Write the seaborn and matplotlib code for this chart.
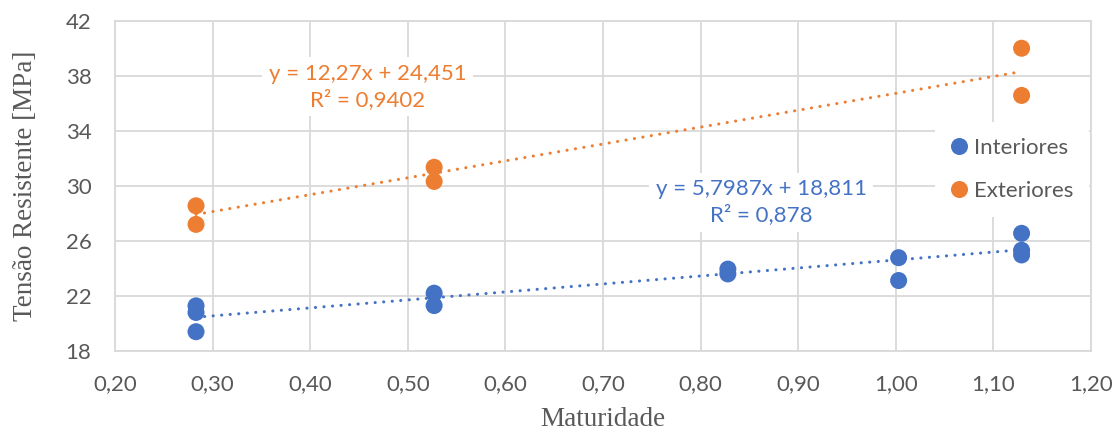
import numpy as np
import pandas as pd
import matplotlib
matplotlib.use("Agg")
import matplotlib.pyplot as plt
import seaborn as sns

# Measured strength vs. maturity
int_x = [0.283, 0.283, 0.283, 0.527, 0.527, 0.828, 0.828, 1.003, 1.003, 1.129, 1.129, 1.129]
int_y = [21.28, 20.80, 19.40, 22.20, 21.30, 23.95, 23.60, 24.78, 23.12, 26.55, 25.32, 24.98]
ext_x = [0.283, 0.283, 0.527, 0.527, 1.129, 1.129]
ext_y = [28.55, 27.20, 31.35, 30.32, 40.00, 36.57]

series = ["Interiores", "Exteriores"]
colors = ["#4472C4", "#ED7D31"]

# Linear trend coefficients (slope, intercept) and R²
int_fit = (5.7987, 18.811, "0,878")
ext_fit = (12.27, 24.451, "0,9402")

x_ticks = [0.20, 0.30, 0.40, 0.50, 0.60, 0.70, 0.80, 0.90, 1.00, 1.10, 1.20]
y_ticks = [18, 22, 26, 30, 34, 38, 42]

df = pd.DataFrame({
    "Maturidade": int_x + ext_x,
    "Tensao": int_y + ext_y,
    "Serie": [series[0]] * len(int_x) + [series[1]] * len(ext_x),
})

sns.set_theme(style="white")
plt.rcParams["font.family"] = ["Lato", "DejaVu Sans"]

fig = plt.figure(figsize=(11.2, 4.36), dpi=100)
ax = fig.add_axes([0.1027, 0.195, 0.8713, 0.7575])

grid_c = "#D9D9D9"
text_c = "#595959"

ax.set_xlim(0.20, 1.20)
ax.set_ylim(18, 42)
ax.set_xticks(x_ticks)
ax.set_yticks(y_ticks)
ax.grid(True, color=grid_c, linewidth=1.3, zorder=0)
ax.set_axisbelow(True)
for s in ax.spines.values():
    s.set_color(grid_c)
    s.set_linewidth(1.3)

# Dotted trend lines from the fitted equations
for (xs, fit, c) in [(int_x, int_fit, colors[0]), (ext_x, ext_fit, colors[1])]:
    xx = np.array([min(xs), max(xs)])
    yy = fit[0] * xx + fit[1]
    ax.plot(xx, yy, color=c, linewidth=2.2, linestyle=(0, (0.05, 2.75)),
            dash_capstyle="round", zorder=2)

sns.scatterplot(data=df, x="Maturidade", y="Tensao", hue="Serie",
                palette=dict(zip(series, colors)), s=150, edgecolor="none",
                ax=ax, zorder=3, legend=True)

ax.set_xticklabels([f"{v:.2f}".replace(".", ",") for v in x_ticks])
ax.set_yticklabels([str(v) for v in y_ticks])
ax.tick_params(axis="both", length=0, labelsize=16, labelcolor=text_c)
ax.tick_params(axis="y", pad=17)
ax.tick_params(axis="x", pad=17)

ax.set_xlabel("Maturidade", fontsize=19.5, color=text_c,
              family=["Liberation Serif"], labelpad=9)
ax.set_ylabel("Tensão Resistente [MPa]", fontsize=19.5, color=text_c,
              family=["Liberation Serif"], labelpad=20)

leg = ax.legend(loc="center left", bbox_to_anchor=(0.84, 0.55), frameon=True,
                fontsize=16, handlelength=0.8, handletextpad=0.25,
                labelspacing=1.05, borderpad=0.7, borderaxespad=0,
                markerscale=1.0)
leg.get_frame().set_facecolor("white")
leg.get_frame().set_edgecolor("none")
leg.get_frame().set_alpha(1)
leg.get_frame().set_boxstyle("square", pad=0)
for t in leg.get_texts():
    t.set_color(text_c)

def eq_label(fit, x, y, c):
    txt = f"y = {str(fit[0]).replace('.', ',')}x + {str(fit[1]).replace('.', ',')}\nR² = {fit[2]}"
    ax.text(x, y, txt, color=c, fontsize=16, ha="center", va="center",
            linespacing=1.3, zorder=4,
            bbox=dict(boxstyle="square,pad=0.3", facecolor="white", edgecolor="none"))

eq_label(ext_fit, 0.459, 37.2, colors[1])
eq_label(int_fit, 0.862, 28.8, colors[0])

fig.savefig("out.png", dpi=100)
